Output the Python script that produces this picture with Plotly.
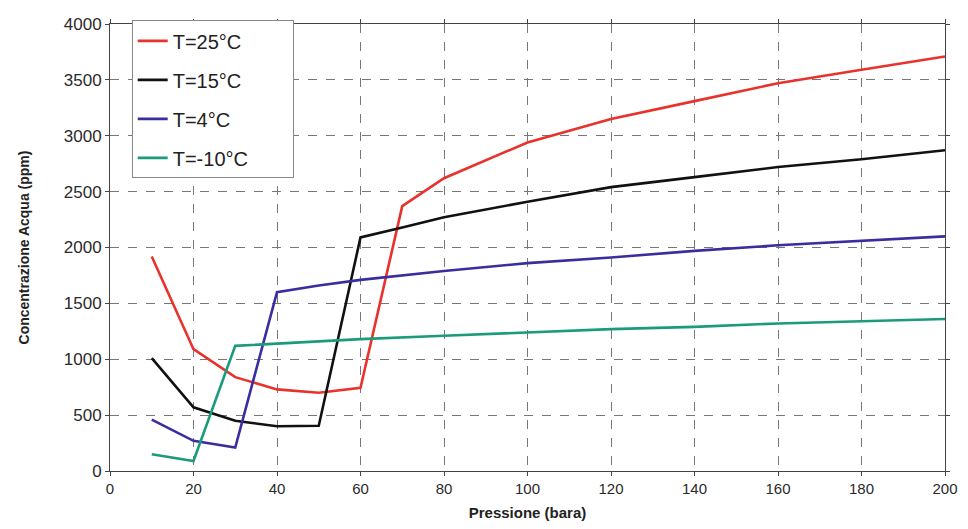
import plotly.graph_objects as go

x_red = [10, 20, 30, 40, 50, 60, 70, 80, 100, 120, 140, 160, 180, 200]
y_red = [1920, 1090, 840, 730, 700, 745, 2370, 2620, 2940, 3150, 3310, 3470, 3590, 3710]

x_black = [10, 20, 30, 40, 50, 60, 70, 80, 100, 120, 140, 160, 180, 200]
y_black = [1010, 570, 450, 400, 405, 2090, 2180, 2270, 2410, 2540, 2630, 2720, 2790, 2870]

x_blue = [10, 20, 30, 40, 50, 60, 80, 100, 120, 140, 160, 180, 200]
y_blue = [460, 270, 210, 1600, 1660, 1710, 1790, 1860, 1910, 1970, 2020, 2060, 2100]

x_green = [10, 20, 30, 40, 60, 80, 100, 120, 140, 160, 180, 200]
y_green = [150, 90, 1120, 1140, 1180, 1210, 1240, 1270, 1290, 1320, 1340, 1360]

names = ["T=25°C", "T=15°C", "T=4°C", "T=-10°C"]
colors = ["#e8322b", "#111111", "#3a2e9e", "#1b9a7c"]

PAD = "\u00a0" * 7
fig = go.Figure()
for i, (xs, ys) in enumerate([(x_red, y_red), (x_black, y_black), (x_blue, y_blue), (x_green, y_green)]):
    fig.add_trace(go.Scatter(x=xs, y=ys, mode="lines", name=names[i] + PAD,
                             line=dict(color=colors[i], width=2.6),
                             legendgroup=str(i)))

FONT = "Liberation Sans, Arial"
axis_common = dict(showgrid=True, gridcolor="#777777", griddash="dash", gridwidth=1,
                   showline=True, linecolor="#444444", linewidth=1, mirror="ticks",
                   ticks="outside", ticklen=4, tickcolor="#444444",
                   zeroline=False, automargin=False)

fig.update_xaxes(range=[0, 200], dtick=20, **axis_common,
                 tickfont=dict(family=FONT, size=15, color="#2a2a2a"),
                 title=dict(text="<b>Pressione (bara)</b>", standoff=11,
                            font=dict(family=FONT, size=15, color="#222222")))
fig.update_yaxes(range=[0, 4000], dtick=500, **axis_common,
                 tickfont=dict(family=FONT, size=17, color="#2a2a2a"),
                 title=dict(text="<b>Concentrazione Acqua (ppm)</b>", standoff=30,
                            font=dict(family=FONT, size=14, color="#222222")))

fig.update_layout(
    width=960, height=513,
    margin=dict(l=102, r=23, t=12, b=50),
    paper_bgcolor="white", plot_bgcolor="white",
    font=dict(family=FONT, size=14, color="#222222"),
    legend=dict(x=0.026, y=1.008, xanchor="left", yanchor="top",
                bgcolor="white", bordercolor="#888888", borderwidth=1,
                tracegroupgap=10, itemwidth=30,
                font=dict(family=FONT, size=20, color="#222222")),
)

fig.write_html("out.html")
